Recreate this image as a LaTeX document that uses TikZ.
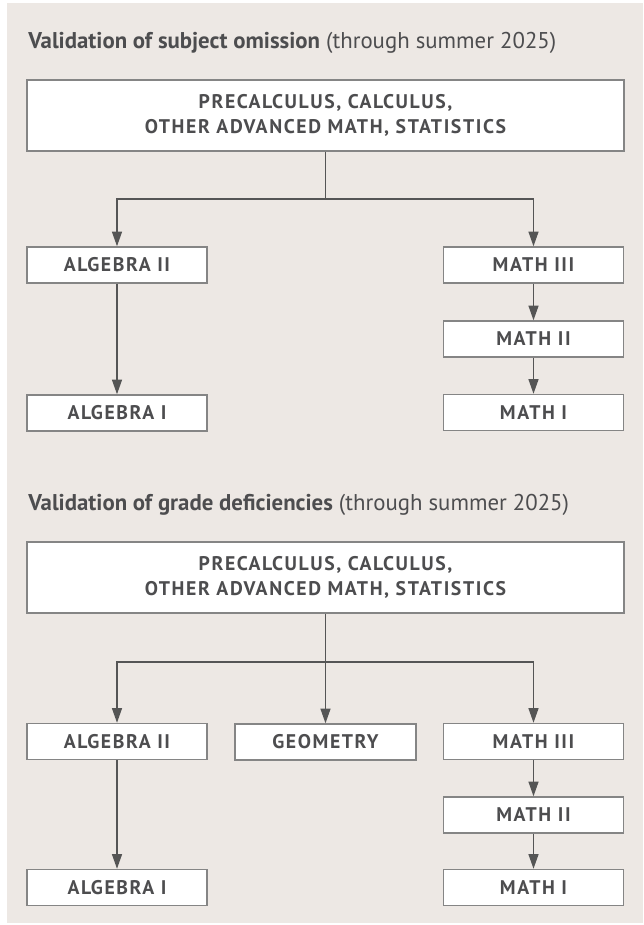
\documentclass[tikz,border=0pt]{standalone}
\usepackage{fontspec}
\setmainfont{PT Sans}
\newfontfamily\boxfont[LetterSpace=8]{PT Sans}
\usetikzlibrary{arrows.meta}
\definecolor{panelbg}{HTML}{EDE8E4}
\definecolor{boxline}{HTML}{858585}
\definecolor{inkgray}{HTML}{4D4D4F}
\definecolor{wiregray}{HTML}{555555}

\tikzset{
  box/.style={draw=boxline, line width=1.1pt, fill=white, text=inkgray,
    font=\boxfont\bfseries\fontsize{14.8}{18.75}\selectfont, inner sep=0pt,
    minimum width=135pt, minimum height=27pt},
  bigbox/.style={box, align=center, minimum width=447.75pt, minimum height=53.25pt},
  heading/.style={anchor=base west, inner sep=0pt, text=inkgray,
    font=\fontsize{17.1}{20}\selectfont},
  wire/.style={draw=wiregray, line width=1pt},
  arr/.style={wire, -{Triangle[length=11pt,width=7.5pt]}}
}

\begin{document}
\begin{tikzpicture}[x=0.75pt, y=-0.75pt]
	\useasboundingbox (0,0) rectangle (643,925);
	\fill[panelbg] (7,3) rectangle (643,923);

	% subject omission
	\node[heading] (head1) at (28,48) {\textbf{Validation of subject omission} (through summer 2025)};
	\node[bigbox] (top1) at (325.5,115.5) {PRECALCULUS, CALCULUS,\\OTHER ADVANCED MATH, STATISTICS};
	\node[box] (alg2a) at (117,265) {ALGEBRA II};
	\node[box] (alg1a) at (117,413) {ALGEBRA I};
	\node[box] (m3a) at (533.5,265) {MATH III};
	\node[box] (m2a) at (533.5,339) {MATH II};
	\node[box] (m1a) at (533.5,412.5) {MATH I};
	\coordinate (bus1) at (325.5,199);

	\draw[wire] (top1.south) -- (bus1);
	\draw[arr] (bus1) -| (alg2a.north);
	\draw[arr] (bus1) -| (m3a.north);
	\draw[arr] (alg2a) -- (alg1a);
	\draw[arr] (m3a) -- (m2a);
	\draw[arr] (m2a) -- (m1a);

	% grade deficiencies
	\node[heading] (head2) at (28,510) {\textbf{Validation of grade deficiencies} (through summer 2025)};
	\node[bigbox] (top2) at (325.5,577.5) {PRECALCULUS, CALCULUS,\\OTHER ADVANCED MATH, STATISTICS};
	\node[box] (alg2b) at (117,741.5) {ALGEBRA II};
	\node[box] (alg1b) at (117,887.5) {ALGEBRA I};
	\node[box, minimum width=135.75pt] (geo) at (325.5,742) {GEOMETRY};
	\node[box] (m3b) at (533.5,741.5) {MATH III};
	\node[box] (m2b) at (533.5,815) {MATH II};
	\node[box] (m1b) at (533.5,887.5) {MATH I};
	\coordinate (bus2) at (325.5,662);

	\draw[wire] (top2.south) -- (bus2);
	\draw[arr] (bus2) -| (alg2b.north);
	\draw[arr] (bus2) -- (geo.north);
	\draw[arr] (bus2) -| (m3b.north);
	\draw[arr] (alg2b) -- (alg1b);
	\draw[arr] (m3b) -- (m2b);
	\draw[arr] (m2b) -- (m1b);
\end{tikzpicture}
\end{document}
